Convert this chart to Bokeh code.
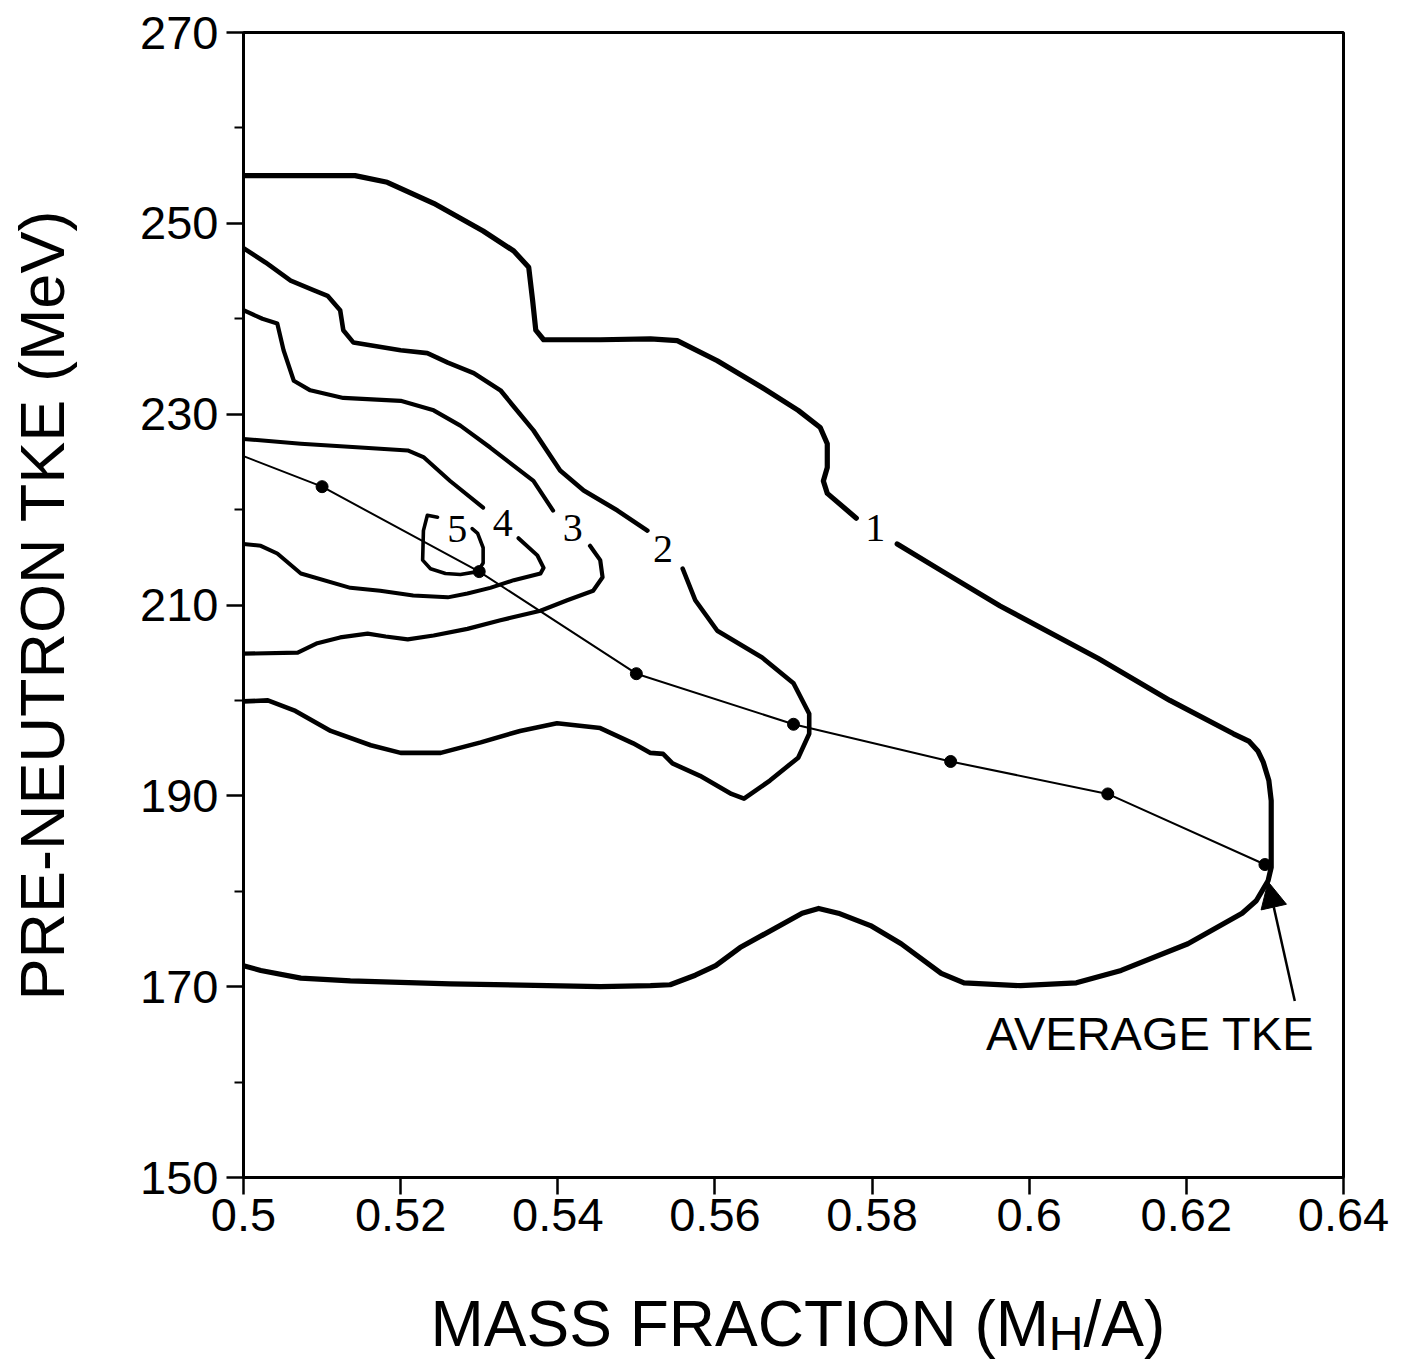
from bokeh.plotting import figure
from bokeh.layouts import column
from bokeh.models import Range1d, FixedTicker, Label, Arrow, NormalHead
from bokeh.embed import file_html
from bokeh.resources import INLINE
from bokeh.core.properties import value

# ---------------- data ----------------
x_ticks = [0.5, 0.52, 0.54, 0.56, 0.58, 0.6, 0.62, 0.64]
x_tick_labels = ["0.5", "0.52", "0.54", "0.56", "0.58", "0.6", "0.62", "0.64"]
y_ticks = [150, 170, 190, 210, 230, 250, 270]
y_minor = [160, 180, 200, 220, 240, 260]

# contour 1 (outermost), split at its label
c1a_x = [0.5, 0.5142, 0.5183, 0.5242, 0.5305, 0.5344, 0.5363, 0.5368, 0.5372, 0.5382, 0.5454,
         0.5518, 0.5552, 0.5603, 0.5660, 0.5706, 0.5734, 0.5743, 0.5743, 0.5738, 0.5743, 0.5780]
c1a_y = [255.0, 255.0, 254.3, 252.1, 249.2, 247.1, 245.4, 241.9, 238.8, 237.8, 237.8,
         237.9, 237.7, 235.6, 232.8, 230.4, 228.6, 226.9, 224.4, 223.0, 221.7, 219.1]
c1b_x = [0.5832, 0.5888, 0.5963, 0.6088, 0.6179, 0.6260, 0.6280, 0.6291, 0.6298, 0.6305, 0.6308,
         0.6308, 0.6308, 0.6304, 0.6289, 0.6271, 0.6202, 0.6117, 0.6060, 0.5989, 0.5917, 0.5888,
         0.5837, 0.5798, 0.5757, 0.5732, 0.5711, 0.5632, 0.5601, 0.5575, 0.5543, 0.5518, 0.5454,
         0.5263, 0.5136, 0.5073, 0.5022, 0.5]
c1b_y = [216.4, 213.6, 209.9, 204.4, 200.0, 196.5, 195.7, 194.7, 193.5, 191.6, 189.5,
         186.0, 182.5, 181.1, 179.0, 177.7, 174.5, 171.7, 170.4, 170.1, 170.4, 171.4,
         174.5, 176.4, 177.7, 178.2, 177.7, 174.1, 172.2, 171.2, 170.2, 170.1, 170.0,
         170.3, 170.6, 170.9, 171.7, 172.2]

# contour 2
c2a_x = [0.5, 0.5028, 0.5060, 0.5089, 0.5107, 0.5123, 0.5127, 0.5140, 0.5200, 0.5234, 0.5260,
         0.5293, 0.5327, 0.5369, 0.5403, 0.5433, 0.5476, 0.5514]
c2a_y = [247.4, 245.9, 244.0, 243.0, 242.4, 240.9, 238.8, 237.5, 236.7, 236.4, 235.4,
         234.3, 232.5, 228.3, 224.1, 222.0, 219.9, 217.8]
c2b_x = [0.5559, 0.5575, 0.5603, 0.5660, 0.5700, 0.5720, 0.5720, 0.5706, 0.5670, 0.5637, 0.5621,
         0.5581, 0.5546, 0.5534, 0.5518, 0.5496, 0.5454, 0.5399, 0.5352, 0.5302, 0.5251, 0.5200,
         0.5162, 0.5111, 0.5066, 0.5031, 0.5]
c2b_y = [213.8, 210.5, 207.3, 204.5, 201.8, 198.6, 196.5, 194.0, 191.6, 189.7, 190.2,
         192.1, 193.4, 194.4, 194.5, 195.5, 197.1, 197.6, 196.8, 195.6, 194.5, 194.5,
         195.3, 196.8, 198.9, 200.0, 199.9]

# contour 3
c3a_x = [0.5, 0.5024, 0.5043, 0.5051, 0.5064, 0.5085, 0.5127, 0.5200, 0.5242, 0.5276, 0.5314, 0.5369, 0.5394]
c3a_y = [240.9, 240.0, 239.5, 236.7, 233.5, 232.5, 231.7, 231.4, 230.4, 228.8, 226.5, 223.0, 219.9]
c3b_x = [0.5441, 0.5454, 0.5457, 0.5445, 0.5412, 0.5378, 0.5327, 0.5285, 0.5242, 0.5209, 0.5181,
         0.5158, 0.5123, 0.5094, 0.5069, 0.5]
c3b_y = [216.2, 214.7, 212.9, 211.5, 210.5, 209.4, 208.4, 207.5, 206.8, 206.4, 206.7,
         207.0, 206.6, 206.0, 205.0, 204.9]

# contour 4
c4a_x = [0.5, 0.5073, 0.5149, 0.5209, 0.5229, 0.5263, 0.5305]
c4a_y = [227.4, 226.9, 226.5, 226.2, 225.5, 223.0, 220.2]
c4b_x = [0.5350, 0.5374, 0.5382, 0.5378, 0.5344, 0.5314, 0.5285, 0.5260, 0.5216, 0.5174, 0.5136,
         0.5073, 0.5043, 0.5022, 0.5]
c4b_y = [217.0, 215.2, 213.9, 213.3, 212.6, 211.8, 211.2, 210.8, 211.0, 211.5, 211.8,
         213.3, 215.4, 216.2, 216.4]

# contour 5 (innermost)
c5_x = [0.5247, 0.5234, 0.5229, 0.5228, 0.5238, 0.5257, 0.5276, 0.5298, 0.5305, 0.5305, 0.5298, 0.5291]
c5_y = [219.2, 219.4, 217.8, 214.7, 213.8, 213.3, 213.2, 213.5, 214.4, 216.0, 217.5, 218.0]

# contour level labels
lab_x = [0.5804, 0.5534, 0.5419, 0.5330, 0.5272]
lab_y = [218.1, 215.9, 218.1, 218.6, 218.0]
lab_t = ["1", "2", "3", "4", "5"]

# average TKE curve
avg_x = [0.50, 0.51, 0.53, 0.55, 0.57, 0.59, 0.61, 0.63]
avg_y = [225.6, 222.4, 213.5, 202.8, 197.5, 193.6, 190.2, 182.8]

# x-axis title pieces (main text, subscript, rest)
xt_text = ["MASS FRACTION (M", "H", "/A)"]

# ---------------- main figure ----------------
FONT = "Liberation Sans"
W = 1410
H_TOTAL = 1363
H_MAIN = 1265
H_TITLE = H_TOTAL - H_MAIN
B_LEFT, B_RIGHT = 243, 67

p = figure(width=W, height=H_MAIN,
           x_range=Range1d(0.5, 0.64), y_range=Range1d(150, 270),
           output_backend="svg", toolbar_location=None,
           min_border_left=B_LEFT, min_border_right=B_RIGHT, min_border_top=32,
           min_border_bottom=H_MAIN - 1177)

p.background_fill_color = "white"
p.border_fill_color = "white"
p.xgrid.visible = False
p.ygrid.visible = False
p.outline_line_color = "black"
p.outline_line_width = 3
p.outline_line_alpha = 1.0

# x axis
xa = p.xaxis[0]
xa.ticker = FixedTicker(ticks=x_ticks)
xa.major_label_overrides = dict(zip(x_ticks, x_tick_labels))
xa.axis_line_width = 3
xa.major_tick_line_width = 2.5
xa.major_tick_out = 17
xa.major_tick_in = 0
xa.minor_tick_out = 0
xa.minor_tick_in = 0
xa.major_label_text_font = FONT
xa.major_label_text_font_size = "47px"
xa.major_label_text_color = "black"
xa.major_label_standoff = 4

# y axis
ya = p.yaxis[0]
ya.ticker = FixedTicker(ticks=y_ticks, minor_ticks=y_minor)
ya.axis_line_width = 3
ya.major_tick_line_width = 2.5
ya.minor_tick_line_width = 2
ya.major_tick_out = 17
ya.major_tick_in = 0
ya.minor_tick_out = 9
ya.minor_tick_in = 0
ya.major_label_text_font = FONT
ya.major_label_text_font_size = "47px"
ya.major_label_text_color = "black"
ya.major_label_standoff = 8
ya.axis_label = "PRE-NEUTRON TKE (MeV)"
ya.axis_label_text_font = FONT
ya.axis_label_text_font_size = "63px"
ya.axis_label_text_font_style = "normal"
ya.axis_label_text_color = "black"
ya.axis_label_standoff = 60

# contours
contours = [
    (c1a_x, c1a_y, 5.2), (c1b_x, c1b_y, 5.2),
    (c2a_x, c2a_y, 4.6), (c2b_x, c2b_y, 4.6),
    (c3a_x, c3a_y, 4.2), (c3b_x, c3b_y, 4.2),
    (c4a_x, c4a_y, 4.0), (c4b_x, c4b_y, 4.0),
    (c5_x, c5_y, 3.6),
]
for xs, ys, w in contours:
    p.line(xs, ys, line_color="black", line_width=w, line_join="round", line_cap="round")

p.text(x=lab_x, y=lab_y, text=lab_t, text_font=value("Liberation Serif"),
       text_font_size="40px", text_align="center", text_baseline="middle", text_color="black")

# average TKE line and points
p.line(avg_x, avg_y, line_color="black", line_width=2)
p.scatter(avg_x[1:], avg_y[1:], size=12, color="black")

# arrow and its label
p.add_layout(Arrow(end=NormalHead(size=26, fill_color="black", line_color="black", line_width=1),
                   x_start=0.6338, y_start=168.5, x_end=0.6304, y_end=181.0,
                   line_color="black", line_width=2.5))
p.add_layout(Label(x=0.6154, y=165.1, text="AVERAGE TKE", text_font=FONT, text_font_size="47px",
                   text_align="center", text_baseline="alphabetic", text_color="black"))

# ---------------- x-axis title strip (with subscript) ----------------
# same horizontal data range and borders as the main plot, so x positions are in MH/A units
t = figure(width=W, height=H_TITLE, x_range=p.x_range, y_range=Range1d(0, H_TITLE),
           output_backend="svg", toolbar_location=None, x_axis_type=None, y_axis_type=None,
           min_border_left=B_LEFT, min_border_right=B_RIGHT, min_border_top=0, min_border_bottom=0)
t.xgrid.visible = False
t.ygrid.visible = False
t.outline_line_color = None
t.background_fill_color = "white"
t.border_fill_color = "white"

t.text(x=[0.5238], y=[40], text=[xt_text[0]], text_font=value(FONT),
       text_font_size="64px", text_align="left", text_baseline="alphabetic", text_color="black")
t.text(x=[0.6025], y=[30], text=[xt_text[1]], text_font=value(FONT),
       text_font_size="48px", text_align="left", text_baseline="alphabetic", text_color="black")
t.text(x=[0.6069], y=[40], text=[xt_text[2]], text_font=value(FONT),
       text_font_size="64px", text_align="left", text_baseline="alphabetic", text_color="black")

layout = column(p, t, spacing=0)
open("out.html", "w").write(file_html(layout, INLINE))
